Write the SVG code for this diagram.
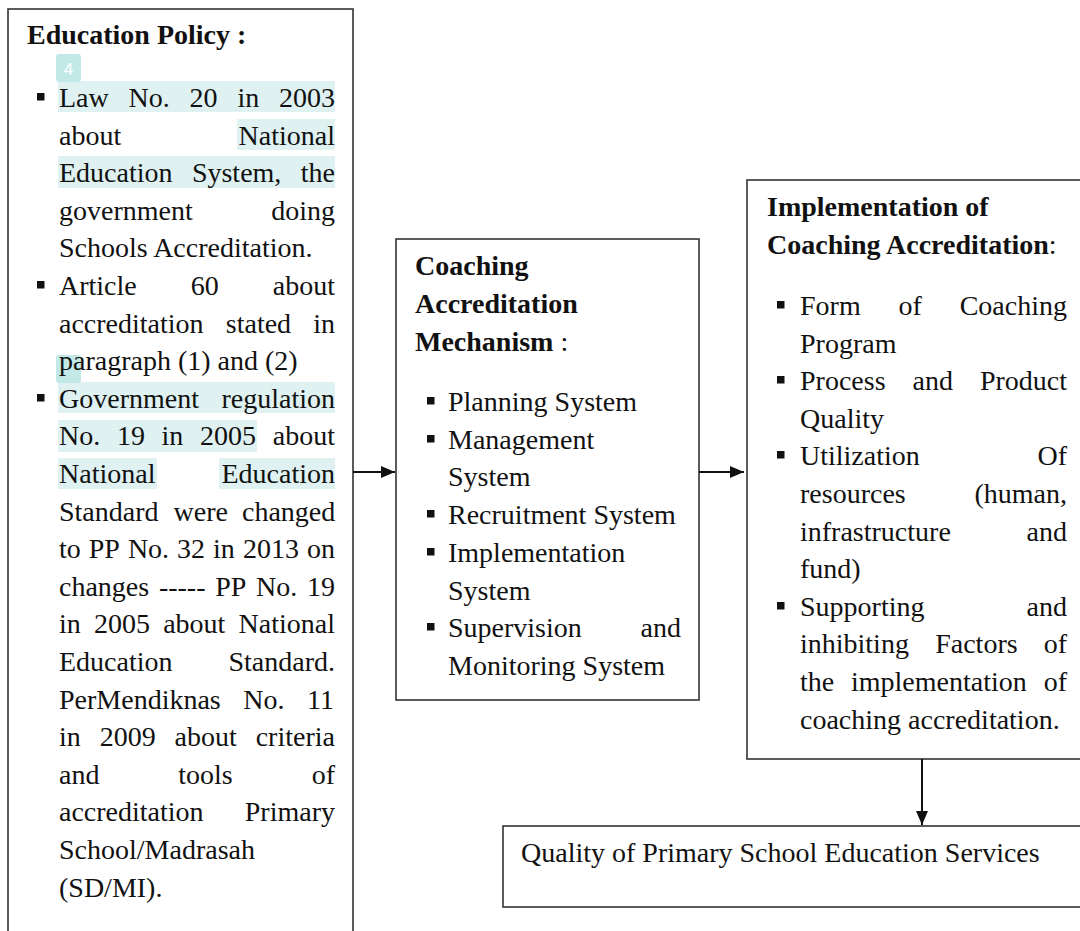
<svg xmlns="http://www.w3.org/2000/svg" width="1080" height="931" viewBox="0 0 1080 931">
<style>
.t{font-family:"Liberation Serif","Times New Roman",serif;font-size:28px;fill:#111}
.b{font-weight:bold}
.box{fill:#fff;stroke:#333;stroke-width:1.6}
.hl{fill:#dff1f1}
.badge{fill:#c2e8e8}
.bt{font-family:"Liberation Sans",Arial,sans-serif;font-size:17px;fill:#fff}
.bul{fill:#111}
.con{stroke:#111;stroke-width:2;fill:none}
</style>
<defs>
<marker id="ah2" markerWidth="14" markerHeight="12" refX="14" refY="6" orient="auto" markerUnits="userSpaceOnUse">
<path d="M0,0 L14,6 L0,12 Z" fill="#111"/>
</marker>
</defs>
<rect width="1080" height="931" fill="#fff"/>

<g id="education-policy">
<rect class="box" x="8" y="9" width="345" height="940"/>
<rect class="hl" x="58" y="81" width="277" height="31"/>
<rect class="hl" x="237" y="119" width="98" height="31"/>
<rect class="hl" x="58" y="156" width="277" height="32"/>
<rect class="hl" x="58" y="382" width="277" height="31"/>
<rect class="hl" x="58" y="420" width="199" height="32"/>
<rect class="hl" x="58" y="458" width="99" height="31"/>
<rect class="hl" x="219" y="458" width="116" height="31"/>
<rect class="badge" x="56" y="54" width="25" height="28" rx="3"/>
<text class="bt" x="68.5" y="75" text-anchor="middle">4</text>
<rect class="badge" x="56" y="355" width="25" height="28" rx="3"/>
<text class="t b" x="27" y="44">Education Policy :</text>
<rect class="bul" x="37" y="93" width="7.5" height="7.5"/>
<rect class="bul" x="37" y="281" width="7.5" height="7.5"/>
<rect class="bul" x="37" y="394" width="7.5" height="7.5"/>
<text class="t" y="107"><tspan x="59">Law</tspan><tspan x="128.6">No.</tspan><tspan x="189.6">20</tspan><tspan x="237.4">in</tspan><tspan x="279">2003</tspan></text>
<text class="t" y="144.6"><tspan x="59">about</tspan><tspan x="238.6">National</tspan></text>
<text class="t" y="182.2"><tspan x="59">Education</tspan><tspan x="191.9">System,</tspan><tspan x="300.8">the</tspan></text>
<text class="t" y="219.8"><tspan x="59">government</tspan><tspan x="271.2">doing</tspan></text>
<text class="t" x="59" y="257.4">Schools Accreditation.</text>
<text class="t" y="295"><tspan x="59">Article</tspan><tspan x="190.8">60</tspan><tspan x="272.8">about</tspan></text>
<text class="t" y="332.6"><tspan x="59">accreditation</tspan><tspan x="225.8">stated</tspan><tspan x="313.2">in</tspan></text>
<text class="t" x="59" y="370.2">paragraph (1) and (2)</text>
<text class="t" y="407.8"><tspan x="59">Government</tspan><tspan x="221.5">regulation</tspan></text>
<text class="t" y="445.4"><tspan x="59">No.</tspan><tspan x="116.9">19</tspan><tspan x="161.6">in</tspan><tspan x="200.1">2005</tspan><tspan x="272.8">about</tspan></text>
<text class="t" y="483"><tspan x="59">National</tspan><tspan x="221.5">Education</tspan></text>
<text class="t" y="520.6"><tspan x="59">Standard</tspan><tspan x="173.5">were</tspan><tspan x="242">changed</tspan></text>
<text class="t" y="558.2"><tspan x="59">to</tspan><tspan x="88.8">PP</tspan><tspan x="127.9">No.</tspan><tspan x="177.1">32</tspan><tspan x="213.1">in</tspan><tspan x="242.9">2013</tspan><tspan x="306.9">on</tspan></text>
<text class="t" y="595.8"><tspan x="59">changes</tspan><tspan x="158.9">-----</tspan><tspan x="215.2">PP</tspan><tspan x="256">No.</tspan><tspan x="307">19</tspan></text>
<text class="t" y="633.4"><tspan x="59">in</tspan><tspan x="94">2005</tspan><tspan x="163.2">about</tspan><tspan x="238.6">National</tspan></text>
<text class="t" y="671"><tspan x="59">Education</tspan><tspan x="228.5">Standard.</tspan></text>
<text class="t" y="708.6"><tspan x="59">PerMendiknas</tspan><tspan x="243.3">No.</tspan><tspan x="307">11</tspan></text>
<text class="t" y="746.2"><tspan x="59">in</tspan><tspan x="99.7">2009</tspan><tspan x="174.6">about</tspan><tspan x="255.7">criteria</tspan></text>
<text class="t" y="783.8"><tspan x="59">and</tspan><tspan x="178.3">tools</tspan><tspan x="311.7">of</tspan></text>
<text class="t" y="821.4"><tspan x="59">accreditation</tspan><tspan x="244.8">Primary</tspan></text>
<text class="t" x="59" y="859">School/Madrasah</text>
<text class="t" x="59" y="896.6">(SD/MI).</text>
</g>

<g id="coaching-mechanism">
<rect class="box" x="396" y="239" width="303" height="461"/>
<text class="t b" x="415" y="275">Coaching</text>
<text class="t b" x="415" y="313">Accreditation</text>
<text class="t" x="415" y="351"><tspan class="b">Mechanism</tspan> :</text>
<rect class="bul" x="427" y="397" width="7.5" height="7.5"/>
<rect class="bul" x="427" y="435" width="7.5" height="7.5"/>
<rect class="bul" x="427" y="510" width="7.5" height="7.5"/>
<rect class="bul" x="427" y="548" width="7.5" height="7.5"/>
<rect class="bul" x="427" y="623" width="7.5" height="7.5"/>
<text class="t" x="448" y="411">Planning System</text>
<text class="t" x="448" y="448.7">Management</text>
<text class="t" x="448" y="486.4">System</text>
<text class="t" x="448" y="524.1">Recruitment System</text>
<text class="t" x="448" y="561.8">Implementation</text>
<text class="t" x="448" y="599.5">System</text>
<text class="t" y="637.2"><tspan x="448">Supervision</tspan><tspan x="640.6">and</tspan></text>
<text class="t" x="448" y="674.9">Monitoring System</text>
</g>

<g id="implementation">
<rect class="box" x="747" y="180" width="345" height="579"/>
<text class="t b" x="767" y="216">Implementation of</text>
<text class="t" x="767" y="254"><tspan class="b">Coaching Accreditation</tspan>:</text>
<rect class="bul" x="777" y="301" width="7.5" height="7.5"/>
<rect class="bul" x="777" y="376" width="7.5" height="7.5"/>
<rect class="bul" x="777" y="451" width="7.5" height="7.5"/>
<rect class="bul" x="777" y="602" width="7.5" height="7.5"/>
<text class="t" y="315"><tspan x="800">Form</tspan><tspan x="898.5">of</tspan><tspan x="959.7">Coaching</tspan></text>
<text class="t" x="800" y="352.6">Program</text>
<text class="t" y="390.2"><tspan x="800">Process</tspan><tspan x="912.5">and</tspan><tspan x="979.9">Product</tspan></text>
<text class="t" x="800" y="427.8">Quality</text>
<text class="t" y="465.4"><tspan x="800">Utilization</tspan><tspan x="1037.5">Of</tspan></text>
<text class="t" y="503"><tspan x="800">resources</tspan><tspan x="974.5">(human,</tspan></text>
<text class="t" y="540.6"><tspan x="800">infrastructure</tspan><tspan x="1026.6">and</tspan></text>
<text class="t" x="800" y="578.2">fund)</text>
<text class="t" y="615.8"><tspan x="800">Supporting</tspan><tspan x="1026.6">and</tspan></text>
<text class="t" y="653.4"><tspan x="800">inhibiting</tspan><tspan x="935.2">Factors</tspan><tspan x="1043.7">of</tspan></text>
<text class="t" y="691"><tspan x="800">the</tspan><tspan x="851">implementation</tspan><tspan x="1043.7">of</tspan></text>
<text class="t" x="800" y="728.6">coaching accreditation.</text>
</g>

<g id="quality">
<rect class="box" x="503" y="826" width="590" height="81"/>
<text class="t" x="521" y="862">Quality of Primary School Education Services</text>
</g>

<g id="connectors">
<line class="con" x1="353" y1="472" x2="395" y2="472" marker-end="url(#ah2)"/>
<line class="con" x1="699" y1="472" x2="744" y2="472" marker-end="url(#ah2)"/>
<line class="con" x1="922" y1="759" x2="922" y2="825" marker-end="url(#ah2)"/>
</g>
</svg>
